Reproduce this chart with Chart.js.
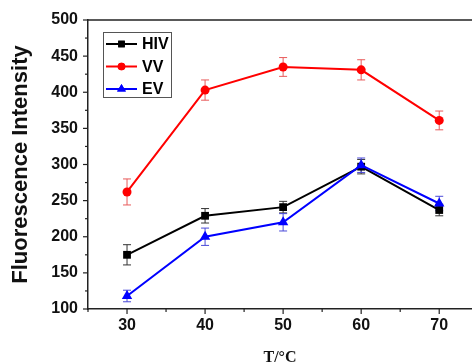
<!DOCTYPE html>
<html>
<head>
<meta charset="utf-8">
<script src="https://cdn.jsdelivr.net/npm/chart.js@4.4.1/dist/chart.umd.min.js"></script>
<style>
html,body{margin:0;padding:0;background:#fff;}
#wrap{width:472px;height:363px;position:relative;}
</style>
</head>
<body>
<div id="wrap"><canvas id="c" width="472" height="363"></canvas></div>
<script>
// Data
const temperatures = [30, 40, 50, 60, 70];
const seriesNames = ['HIV', 'VV', 'EV'];
const hivValues = [175, 229, 241, 297, 237];
const hivErrors = [14, 10, 8, 10, 8];
const vvValues = [262, 403, 435, 431, 361];
const vvErrors = [18, 14, 13, 14, 13];
const evValues = [118, 200, 220, 299, 246];
const evErrors = [8, 12, 12, 10, 10];
const xTickLabels = [30, 40, 50, 60, 70];
const yTickLabels = [100, 150, 200, 250, 300, 350, 400, 450, 500];

const colors = ['#000000', '#ff0000', '#0000ff'];
const errColors = ['#333333', '#e85a5a', '#4a4ad8'];
const markers = ['rect', 'circle', 'triangle'];
const radii = [5.5, 4.5, 6];
const allValues = [hivValues, vvValues, evValues];
const allErrors = [hivErrors, vvErrors, evErrors];

const datasets = seriesNames.map((name, i) => ({
  label: name,
  data: temperatures.map((t, j) => ({x: t, y: allValues[i][j]})),
  errors: allErrors[i],
  borderColor: colors[i],
  backgroundColor: colors[i],
  borderWidth: 2,
  pointStyle: markers[i],
  pointRadius: radii[i],
  pointBorderWidth: 0,
  pointBackgroundColor: colors[i],
  errColor: errColors[i],
  tension: 0,
  order: 3 - i
}));

const errorBarPlugin = {
  id: 'errorBars',
  beforeDatasetsDraw(chart) {
    const ctx = chart.ctx;
    const xs = chart.scales.x, ys = chart.scales.y;
    chart.data.datasets.forEach((ds) => {
      ctx.save();
      ctx.strokeStyle = ds.errColor;
      ctx.lineWidth = 1;
      ds.data.forEach((p, j) => {
        const e = ds.errors[j];
        const px = xs.getPixelForValue(p.x);
        const yt = ys.getPixelForValue(p.y + e);
        const yb = ys.getPixelForValue(p.y - e);
        ctx.beginPath();
        ctx.moveTo(px, yt); ctx.lineTo(px, yb);
        ctx.moveTo(px - 4, yt); ctx.lineTo(px + 4, yt);
        ctx.moveTo(px - 4, yb); ctx.lineTo(px + 4, yb);
        ctx.stroke();
      });
      ctx.restore();
    });
  }
};

const frameLegendPlugin = {
  id: 'frameLegend',
  afterDraw(chart) {
    const ctx = chart.ctx;
    const a = chart.chartArea;
    const xs = chart.scales.x, ys = chart.scales.y;
    ctx.save();
    // top frame line
    ctx.strokeStyle = '#222';
    ctx.lineWidth = 1.5;
    ctx.beginPath();
    ctx.moveTo(a.left, a.top);
    ctx.lineTo(a.right, a.top);
    ctx.stroke();
    // tick marks
    ctx.lineWidth = 1.2;
    for (let v = 100; v <= 500; v += 25) {
      const y = ys.getPixelForValue(v);
      const len = (v % 50 === 0) ? 5 : 3;
      ctx.beginPath();
      ctx.moveTo(a.left - len, y); ctx.lineTo(a.left, y);
      ctx.stroke();
    }
    for (let v = 25; v <= 75; v += 5) {
      const x = xs.getPixelForValue(v);
      if (x > a.right + 0.5) continue;
      const len = (v % 10 === 0) ? 5 : 3;
      ctx.beginPath();
      ctx.moveTo(x, a.bottom); ctx.lineTo(x, a.bottom + len);
      ctx.stroke();
    }
    // legend box
    const bx = a.left + 15, by = a.top + 12, bw = 68, bh = 65;
    ctx.strokeStyle = '#555';
    ctx.lineWidth = 1;
    ctx.strokeRect(bx + 0.5, by + 0.5, bw, bh);
    ctx.font = 'bold 16px "Liberation Sans", Arial, sans-serif';
    ctx.textBaseline = 'middle';
    ctx.textAlign = 'left';
    chart.data.datasets.forEach((ds, i) => {
      const cy = by + 12 + i * 22.5;
      ctx.strokeStyle = ds.borderColor;
      ctx.lineWidth = 2;
      ctx.beginPath();
      ctx.moveTo(bx + 3, cy); ctx.lineTo(bx + 34, cy);
      ctx.stroke();
      ctx.fillStyle = ds.borderColor;
      Chart.helpers.drawPoint(ctx, {pointStyle: ds.pointStyle, radius: ds.pointRadius * 0.85, borderWidth: 0}, bx + 18.5, cy);
      ctx.fill();
      ctx.fillStyle = '#000';
      ctx.fillText(ds.label, bx + 39, cy + 1);
    });
    ctx.restore();
  }
};

new Chart(document.getElementById('c'), {
  type: 'line',
  data: { datasets },
  options: {
    responsive: false,
    animation: false,
    devicePixelRatio: 1,
    layout: { autoPadding: false, padding: { top: 20, right: 0, left: 0, bottom: 0 } },
    plugins: { legend: { display: false }, tooltip: { enabled: false } },
    scales: {
      x: {
        type: 'linear',
        min: 25,
        max: 74.2,
        afterFit(s) { s.height = 54; },
        afterBuildTicks(s) { s.ticks = xTickLabels.map(v => ({value: v})); },
        grid: { display: false, drawTicks: false },
        border: { display: true, color: '#222', width: 1.5 },
        ticks: {
          color: '#111',
          padding: 7,
          font: { family: '"Liberation Sans", Arial, sans-serif', size: 16, weight: 'bold' },
          callback: v => String(v)
        },
        title: {
          display: true,
          text: 'T/°C',
          color: '#111',
          padding: { top: 0, bottom: 0 },
          font: { family: '"Liberation Serif", "Times New Roman", serif', size: 16, weight: 'bold', lineHeight: 0.6 }
        }
      },
      y: {
        min: 100,
        max: 500,
        afterFit(s) { s.width = 88; },
        afterBuildTicks(s) { s.ticks = yTickLabels.map(v => ({value: v})); },
        grid: { display: false, drawTicks: false },
        border: { display: true, color: '#222', width: 1.5 },
        ticks: {
          color: '#111',
          padding: 10,
          font: { family: '"Liberation Sans", Arial, sans-serif', size: 16, weight: 'bold' },
          callback: v => String(v)
        },
        title: {
          display: true,
          text: 'Fluorescence Intensity',
          color: '#111',
          padding: { top: 8, bottom: 0 },
          font: { family: '"Liberation Sans", Arial, sans-serif', size: 22, weight: 'bold' }
        }
      }
    }
  },
  plugins: [errorBarPlugin, frameLegendPlugin]
});
</script>
</body>
</html>
